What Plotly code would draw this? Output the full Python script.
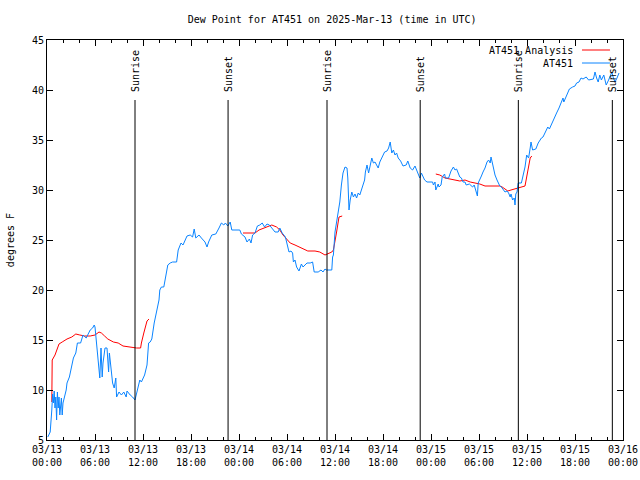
import plotly.graph_objects as go
import pandas as pd

START = "2025-03-13 00:00"
END = "2025-03-16 00:00"

# AT451 observations (hours since start, degrees F)
blue_hours = [0.1, 0.4, 0.6, 0.7, 0.8, 0.9, 1.0, 1.1, 1.2, 1.3, 1.4, 1.5, 1.6, 1.7, 1.8, 1.9, 2.0,
              2.4, 2.5, 2.8, 3.1, 3.3, 3.6, 3.8, 4.2, 4.5, 4.9, 5.4, 5.7, 5.9, 6.0, 6.1, 6.3, 6.4,
              6.5, 6.6, 6.75, 6.9, 7.0, 7.25, 7.5, 7.7, 7.8, 8.0, 8.2, 8.4, 8.6, 8.7, 9.0, 9.3,
              9.6, 9.9, 10.0, 10.4, 10.7, 11.0, 11.2, 11.6, 11.8, 12.2, 12.5, 12.7, 12.9, 13.1,
              13.4, 13.7, 14.0, 14.1, 14.3, 14.6, 14.8, 15.1, 15.4, 15.7, 16.2, 16.4, 16.75, 17.0,
              17.5, 17.9, 18.2, 18.4, 18.6, 19.0, 19.3, 19.75, 20.0, 20.2, 20.6, 21.1, 21.5, 21.8,
              22.1, 22.3, 22.6, 22.9, 23.1, 24.1, 24.3, 24.75, 25.0, 25.3, 25.5, 25.7, 26.0, 26.3,
              26.6, 26.9, 27.2, 27.5, 27.8, 28.1, 28.5, 28.9, 29.1, 29.4, 29.7, 29.8, 30.1, 30.25,
              30.5, 30.7, 30.8, 31.0, 31.2, 31.5, 31.8, 32.0, 32.5, 32.9, 33.2, 33.4, 33.9, 34.25,
              34.5, 34.75, 34.9, 35.6, 35.7, 35.8, 36.0, 36.2, 36.4, 36.6, 36.8, 37.0, 37.25,
              37.5, 37.6, 37.75, 37.9, 38.1, 38.3, 38.5, 38.7, 38.9, 39.1, 39.3, 39.7, 39.8, 40.0,
              40.2, 40.4, 40.6, 40.8, 41.0, 41.2, 41.4, 41.6, 41.9, 42.2, 42.5, 42.7, 42.9, 43.1,
              43.3, 43.5, 43.7, 43.9, 44.2, 44.5, 44.9, 45.1, 45.4, 45.7, 46.0, 46.4, 46.6, 46.8,
              47.2, 47.5, 47.9, 48.2, 48.3, 48.5, 48.6, 48.9, 49.0, 49.25, 49.4, 49.7, 49.8, 50.2,
              50.5, 50.8, 51.0, 51.2, 51.4, 51.6, 51.8, 52.0, 52.25, 52.4, 52.8, 53.2, 53.4, 53.6,
              53.8, 53.9, 54.1, 54.3, 54.5, 54.75, 55.0, 55.2, 55.4, 55.5, 55.7, 55.8, 56.0, 56.25,
              56.4, 56.6, 56.8, 57.0, 57.25, 57.5, 57.7, 57.9, 58.0, 58.2, 58.4, 58.5, 58.6, 58.75,
              58.9, 59.3, 59.5, 59.75, 59.96, 60.2, 60.4, 60.5, 60.7, 61.1, 61.4, 61.8, 62.0, 62.4,
              62.6, 62.8, 63.0, 63.3, 63.7, 64.0, 64.3, 64.5, 64.6, 65.0, 65.3, 65.7, 66.0, 66.2,
              66.5, 66.75, 67.0, 67.4, 67.7, 68.3, 68.5, 68.7, 68.9, 69.1, 69.3, 69.6, 69.9, 70.2,
              70.4, 70.6, 70.8, 71.0, 71.25, 71.5]
blue_values = [5.3, 5.8, 8.0, 9.6, 8.7, 9.9, 8.2, 9.3, 7.0, 9.8, 8.2, 9.3, 7.5, 8.2, 9.2, 7.5, 8.7,
               10.0, 10.7, 11.3, 12.3, 13.2, 13.7, 14.7, 14.7, 15.5, 15.2, 16.0, 16.2, 16.5, 16.3,
               15.5, 13.3, 12.7, 12.3, 11.2, 14.2, 11.3, 12.7, 14.2, 14.2, 11.8, 13.7, 12.0, 10.7,
               10.2, 11.2, 9.3, 9.8, 9.5, 9.8, 9.3, 9.9, 9.5, 9.3, 9.0, 9.7, 11.0, 10.8, 11.5,
               12.5, 14.7, 14.8, 15.1, 16.7, 17.8, 19.0, 20.0, 20.3, 20.3, 21.3, 22.5, 22.7, 22.8,
               22.8, 24.0, 24.7, 24.5, 25.4, 25.5, 25.3, 26.1, 25.2, 25.5, 25.2, 24.8, 24.3, 24.8,
               25.5, 25.6, 26.2, 26.7, 26.5, 26.7, 26.4, 26.8, 26.0, 26.0, 25.6, 25.3, 24.8, 25.1,
               24.7, 25.5, 25.7, 26.4, 26.5, 26.7, 26.3, 26.6, 26.5, 26.2, 25.8, 25.8, 26.2, 25.7,
               25.3, 25.3, 24.3, 23.8, 23.9, 23.7, 22.8, 23.0, 22.3, 21.9, 22.6, 22.3, 22.7, 22.7,
               22.8, 21.8, 21.8, 22.0, 21.8, 22.1, 22.0, 22.0, 23.3, 23.5, 25.8, 26.8, 27.5, 28.8,
               30.5, 31.7, 32.3, 32.2, 31.2, 28.0, 29.0, 29.8, 29.3, 29.6, 29.2, 29.7, 29.5, 30.0,
               31.0, 31.8, 32.5, 31.7, 32.5, 33.2, 32.7, 32.8, 32.5, 32.2, 32.8, 33.3, 33.8, 33.9,
               34.2, 34.8, 33.7, 34.0, 33.5, 33.7, 33.2, 32.9, 32.4, 32.5, 32.9, 32.2, 32.0, 32.4,
               31.7, 31.2, 31.7, 31.0, 30.8, 30.8, 30.8, 30.5, 30.8, 30.0, 30.6, 30.3, 30.5, 31.3,
               31.6, 31.2, 31.2, 31.9, 32.3, 32.0, 32.1, 31.7, 31.3, 31.2, 30.8, 30.8, 30.5, 30.6,
               30.3, 30.5, 30.0, 29.4, 30.7, 31.0, 31.4, 31.8, 32.2, 32.8, 33.0, 32.7, 33.3, 32.6,
               32.1, 31.5, 31.0, 30.7, 30.4, 30.3, 30.1, 29.8, 29.9, 29.7, 29.3, 29.6, 29.0, 29.2,
               28.5, 29.6, 29.8, 30.7, 30.7, 31.3, 32.3, 33.5, 33.2, 34.2, 34.8, 34.0, 34.1, 34.7,
               35.2, 35.3, 35.9, 36.3, 36.1, 36.5, 37.0, 37.7, 38.2, 38.8, 39.2, 38.8, 39.5, 40.1,
               40.3, 40.4, 40.7, 40.8, 41.2, 41.1, 41.3, 41.0, 41.1, 41.8, 41.2, 40.8, 41.5, 41.0,
               41.5, 40.5, 41.0, 41.5, 41.8, 41.2, 40.8, 41.2, 41.7]

# AT451 Analysis (None separates the three analysis runs)
red_hours = [0.6, 0.62, 0.65, 1.0, 1.3, 1.5, 1.9, 2.5, 3.1, 3.6, 4.1, 4.7, 5.4, 6.0, 6.5, 6.8, 7.2,
             7.6, 8.3, 8.9, 9.5, 10.2, 10.8, 11.2, 11.7, 11.8, 12.1, 12.4, 12.5, 12.75, None,
             24.5, 26.0, 26.5, 27.25, 28.1, 28.7, 29.1, 29.5, 29.9, 30.4, 31.0, 31.8, 32.6, 33.5,
             34.1, 34.75, 35.2, 35.6, 35.8, 36.0, 36.2, 36.4, 36.5, 36.9, None,
             48.6, 49.1, 49.75, 50.4, 51.0, 51.6, 52.25, 52.9, 53.5, 54.1, 54.75, 55.4, 56.0, 56.6,
             56.9, 57.2, 57.6, 58.0, 58.4, 58.7, 59.1, 59.75, 59.96, 60.2, 60.4, 60.6]
red_values = [8.8, 10.8, 13.0, 13.5, 14.2, 14.6, 14.8, 15.1, 15.3, 15.6, 15.5, 15.4, 15.4, 15.5,
              15.8, 15.7, 15.4, 15.1, 14.8, 14.7, 14.4, 14.3, 14.2, 14.2, 14.2, 14.7, 15.7, 16.5,
              16.9, 17.1, None,
              25.7, 25.7, 26.0, 26.2, 26.5, 26.3, 26.0, 25.5, 25.1, 24.7, 24.5, 24.2, 23.9, 23.9,
              23.8, 23.5, 23.7, 23.8, 24.0, 24.8, 25.8, 26.8, 27.3, 27.4, None,
              31.6, 31.5, 31.2, 31.1, 31.0, 30.9, 31.0, 30.8, 30.7, 30.6, 30.4, 30.4, 30.4, 30.4,
              30.3, 30.1, 29.9, 30.0, 30.1, 30.2, 30.3, 30.4, 31.3, 32.3, 33.2, 33.4]

event_times = ["2025-03-13 11:00", "2025-03-13 22:38", "2025-03-14 11:00",
               "2025-03-14 22:39", "2025-03-15 10:55", "2025-03-15 22:40"]
event_labels = ["Sunrise", "Sunset", "Sunrise", "Sunset", "Sunrise", "Sunset"]

tick_labels = ["03/13<br>00:00", "03/13<br>06:00", "03/13<br>12:00", "03/13<br>18:00",
               "03/14<br>00:00", "03/14<br>06:00", "03/14<br>12:00", "03/14<br>18:00",
               "03/15<br>00:00", "03/15<br>06:00", "03/15<br>12:00", "03/15<br>18:00",
               "03/16<br>00:00"]

t0 = pd.Timestamp(START)


def to_time(hours):
    return [None if h is None else t0 + pd.Timedelta(hours=h) for h in hours]


FONT = "DejaVu Sans Mono"
BLUE = "#0a84ff"
RED = "#ff0000"

fig = go.Figure()
fig.add_trace(go.Scatter(x=to_time(red_hours), y=red_values, mode="lines",
                         line=dict(color=RED, width=1), name="AT451 Analysis",
                         showlegend=False, connectgaps=False))
fig.add_trace(go.Scatter(x=to_time(blue_hours), y=blue_values, mode="lines",
                         line=dict(color=BLUE, width=1), name="AT451", showlegend=False))

shapes = []
annotations = []
for t, lab in zip(event_times, event_labels):
    shapes.append(dict(type="line", xref="x", yref="y", x0=t, x1=t, y0=5, y1=39,
                       line=dict(color="black", width=1)))
    annotations.append(dict(x=t, y=39.6, xref="x", yref="y", text=lab, textangle=-90,
                            showarrow=False, xanchor="center", yanchor="bottom",
                            font=dict(family=FONT, size=10, color="black")))

# legend (gnuplot style: text then sample line)
legend_items = [("AT451 Analysis", RED, 0.975), ("AT451", BLUE, 0.9425)]
for text, col, yy in legend_items:
    annotations.append(dict(x=0.9167, y=yy, xref="paper", yref="paper", text=text,
                            showarrow=False, xanchor="right", yanchor="middle",
                            font=dict(family=FONT, size=10, color="black")))
    shapes.append(dict(type="line", xref="paper", yref="paper", x0=0.9288, x1=0.9774,
                       y0=yy, y1=yy, line=dict(color=col, width=1)))

annotations.append(dict(x=-0.064, y=0.5, xref="paper", yref="paper", text="degrees F",
                        textangle=-90, showarrow=False, xanchor="center", yanchor="middle",
                        font=dict(family=FONT, size=10, color="black")))

fig.update_layout(
    width=640, height=480,
    margin=dict(l=47, r=17, t=40, b=40, autoexpand=False),
    paper_bgcolor="white", plot_bgcolor="white",
    font=dict(family=FONT, size=10, color="black"),
    title=dict(text="Dew Point for AT451 on 2025-Mar-13 (time in UTC)", x=0.519, xref="container",
               xanchor="center", y=1 - 19 / 480, yref="container", yanchor="middle",
               font=dict(family=FONT, size=10, color="black")),
    showlegend=False,
    shapes=shapes,
    annotations=annotations,
    xaxis=dict(type="date", range=[START, END], automargin=False,
               tickmode="array",
               tickvals=list(pd.date_range(START, END, freq="6h")),
               ticktext=tick_labels,
               ticks="inside", ticklen=6, tickcolor="black", tickwidth=1,
               showline=True, linecolor="black", linewidth=1, mirror="allticks",
               showgrid=False, zeroline=False,
               minor=dict(dtick=2 * 3600 * 1000, tick0=START, ticks="inside", ticklen=3,
                          tickcolor="black", tickwidth=1, showgrid=False)),
    yaxis=dict(range=[5, 45], tick0=5, dtick=5, automargin=False,
               ticks="inside", ticklen=6, tickcolor="black", tickwidth=1,
               showline=True, linecolor="black", linewidth=1, mirror="allticks",
               showgrid=False, zeroline=False),
)

fig.write_html("out.html", config={"displayModeBar": False},
               post_script="document.body.style.margin='0';document.body.style.padding='0';")
